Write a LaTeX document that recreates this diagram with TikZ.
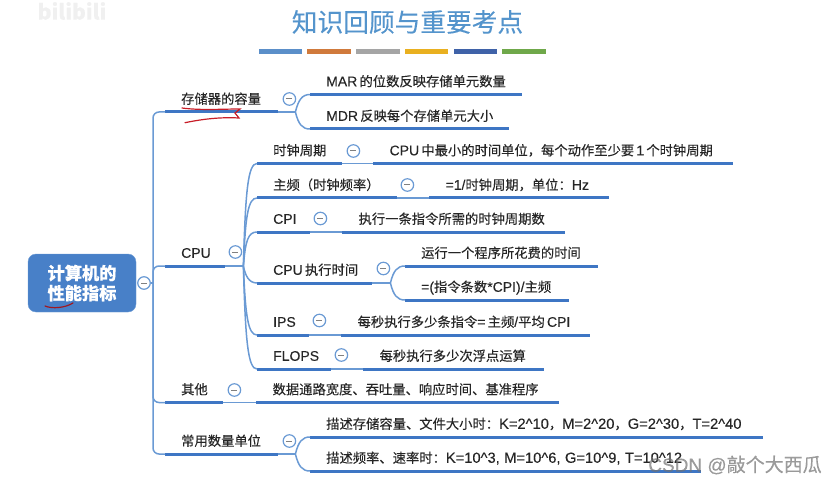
\documentclass[tikz,border=0pt]{standalone}
\usepackage{fontspec}
\setmainfont{Noto Sans CJK SC}[FakeBold=0.2]
\newfontfamily\latfont{Liberation Sans}[FakeBold=0.2]
\newcommand{\lat}[1]{{\latfont\fontsize{14}{16}\selectfont #1}}
\newcommand{\latw}[1]{{\latfont\fontsize{14.7}{16}\selectfont #1}}
\usetikzlibrary{
  positioning,
  calc
}
\definecolor{perfRoot}{RGB}{72,128,200}
\definecolor{perfLine}{RGB}{62,118,196}
\definecolor{perfEdge}{RGB}{106,154,212}
\definecolor{perfText}{RGB}{38,38,38}
\definecolor{perfTitle}{RGB}{84,148,204}
\definecolor{perfPen}{RGB}{200,30,40}
\definecolor{barBlue}{RGB}{91,143,201}
\definecolor{barOrange}{RGB}{208,122,60}
\definecolor{barGray}{RGB}{165,165,165}
\definecolor{barYellow}{RGB}{233,176,32}
\definecolor{barNavy}{RGB}{63,98,168}
\definecolor{barGreen}{RGB}{111,168,74}
\tikzset{
  rootbox/.style={
    fill=perfRoot,
    draw=perfEdge,
    rounded corners=8pt,
    minimum width=108pt,
    minimum height=58pt,
    align=center,
    text=white,
    font=\fontsize{17.2}{20}\selectfont\bfseries
  },
  topic/.style={
    anchor=south west,
    inner xsep=16pt,
    inner ysep=5pt,
    text width=#1pt,
    text height=10pt,
    text depth=3pt,
    align=left,
    text=perfText,
    font=\fontsize{13.3}{16}\selectfont,
    append after command={
      (\tikzlastnode.south west) edge[topicline] (\tikzlastnode.south east)
    }
  },
  topicline/.style={
    draw=perfLine,
    line width=3pt
  },
  branch/.style={
    draw=perfEdge,
    line width=1.5pt
  },
  collapse/.style={
    circle,
    draw=perfEdge,
    line width=1.2pt,
    fill=white,
    minimum size=12.5pt,
    inner sep=0pt,
    path picture={
      \draw[gray,line width=1pt]
        ([xshift=-3pt]path picture bounding box.center) --
        ([xshift=3pt]path picture bounding box.center);
    }
  },
  colorbar/.style={
    minimum width=43.5pt,
    minimum height=5pt,
    inner sep=0pt
  },
  penmark/.style={
    draw=perfPen,
    line width=1.2pt,
    line cap=round
  },
  watermark/.style={
    inner sep=0pt
  }
}

\begin{document}
\begin{tikzpicture}[x=1pt,y=-1pt]
  \useasboundingbox (0,0) rectangle (836,484);

  \node[watermark, text=black!6, font=\fontsize{21}{24}\selectfont\bfseries] (bili) at (72,11) {bilibili};

  \node[text=perfTitle, inner sep=0pt, font=\fontsize{25.7}{28}\selectfont] (title) at (407.5,22) {知识回顾与重要考点};

  \node[colorbar, fill=barBlue] (bar1) at (280.5,52) {};
  \node[colorbar, fill=barOrange, right=4.8pt of bar1] (bar2) {};
  \node[colorbar, fill=barGray, right=4.8pt of bar2] (bar3) {};
  \node[colorbar, fill=barYellow, right=4.8pt of bar3] (bar4) {};
  \node[colorbar, fill=barNavy, right=4.8pt of bar4] (bar5) {};
  \node[colorbar, fill=barGreen, right=4.8pt of bar5] (bar6) {};

  \node[rootbox] (root) at (82,283) {计算机的\\性能指标};
  \node[collapse] (rootc) at (144,283) {};
  \coordinate (trunk) at (153,283);

  % first level
  \node[topic=81] (mem) at (165,112) {存储器的容量};
  \node[topic=28] (cpu) at (165,266) {\lat{CPU}};
  \node[topic=26] (oth) at (165,402.5) {其他};
  \node[topic=81] (unit) at (165,454) {常用数量单位};

  \node[collapse] (memc) at ($(mem.south east)+(11,-13)$) {};
  \node[collapse] (cpuc) at ($(cpu.south east)+(10,-14)$) {};
  \node[collapse] (othc) at ($(oth.south east)+(11,-12.5)$) {};
  \node[collapse] (unitc) at ($(unit.south east)+(11,-13)$) {};

  % memory
  \node[topic=180] (mar) at (310,94.5) {\lat{MAR}\,的位数反映存储单元数量};
  \node[topic=167] (mdr) at (310,129) {\lat{MDR}\,反映每个存储单元大小};

  % cpu
  \node[topic=53] (clk) at (257,163.5) {时钟周期};
  \node[topic=327, right=31pt of clk] (clkd) {\lat{CPU}\,中最小的时间单位，每个动作至少要\,\lat{1}\,个时钟周期};
  \node[topic=108] (freq) at (257,198) {主频（时钟频率）};
  \node[topic=147, right=32pt of freq] (freqd) {\lat{=1/}时钟周期，单位：\lat{Hz}};
  \node[topic=21] (cpi) at (257,232) {\lat{CPI}};
  \node[topic=190, right=32pt of cpi] (cpid) {执行一条指令所需的时钟周期数};
  \node[topic=83] (time) at (257,283) {\lat{CPU}\,执行时间};
  \node[topic=161] (run) at (405,266) {运行一个程序所花费的时间};
  \node[topic=132] (calc) at (405,300) {\lat{=(}指令条数\lat{*CPI)/}主频};
  \node[topic=20] (ips) at (257,335) {\lat{IPS}};
  \node[topic=216, right=32pt of ips] (ipsd) {每秒执行多少条指令\lat{=}\,主频\lat{/}平均\,\lat{CPI}};
  \node[topic=42] (flops) at (257,369) {\lat{FLOPS}};
  \node[topic=148, right=32pt of flops] (flopsd) {每秒执行多少次浮点运算};

  \node[collapse] (clkc) at ($(clk.south east)+(11,-12.5)$) {};
  \node[collapse] (freqc) at ($(freq.south east)+(10,-13)$) {};
  \node[collapse] (cpic) at ($(cpi.south east)+(10,-13.5)$) {};
  \node[collapse] (timec) at ($(time.south east)+(11,-14.5)$) {};
  \node[collapse] (ipsc) at ($(ips.south east)+(10,-14.5)$) {};
  \node[collapse] (flopsc) at ($(flops.south east)+(10,-14)$) {};

  % others and units
  \node[topic=270, right=33pt of oth] (othd) {数据通路宽度、吞吐量、响应时间、基准程序};
  \node[topic=421] (sto) at (310,437) {描述存储容量、文件大小时：\latw{K=2\^{}10}，\latw{M=2\^{}20}，\latw{G=2\^{}30}，\latw{T=2\^{}40}};
  \node[topic=359] (frq) at (310,471) {描述频率、速率时：\latw{K=10\^{}3, M=10\^{}6, G=10\^{}9, T=10\^{}12}};

  % trunk
  \draw[branch] (rootc.east) -- (trunk);
  \draw[branch, rounded corners=6pt] (trunk) |- (mem.south west);
  \draw[branch, rounded corners=6pt] (trunk) |- (cpu.south west);
  \draw[branch, rounded corners=6pt] (trunk) |- (oth.south west);
  \draw[branch, rounded corners=6pt] (trunk) |- (unit.south west);

  % forks
  \coordinate[right=17pt of mem.south east] (memfork);
  \coordinate[right=18pt of cpu.south east] (cpufork);
  \coordinate[right=18pt of time.south east] (timefork);
  \coordinate[right=17pt of unit.south east] (unitfork);

  \draw[branch] (mem.south east) -- (memfork);
  \draw[branch] (memfork) .. controls +(3,-12) and +(-8,0) .. (mar.south west);
  \draw[branch] (memfork) .. controls +(3,12) and +(-8,0) .. (mdr.south west);

  \draw[branch] (cpu.south east) -- (cpufork);
  \draw[branch] (cpufork) .. controls +(2,-75) and +(-9,0) .. (clk.south west);
  \draw[branch] (cpufork) .. controls +(2,-50) and +(-9,0) .. (freq.south west);
  \draw[branch] (cpufork) .. controls +(2,-25) and +(-9,0) .. (cpi.south west);
  \draw[branch] (cpufork) .. controls +(2,10) and +(-8,0) .. (time.south west);
  \draw[branch] (cpufork) .. controls +(2,50) and +(-9,0) .. (ips.south west);
  \draw[branch] (cpufork) .. controls +(2,75) and +(-9,0) .. (flops.south west);

  \draw[branch] (time.south east) -- (timefork);
  \draw[branch] (timefork) .. controls +(3,-12) and +(-8,0) .. (run.south west);
  \draw[branch] (timefork) .. controls +(3,12) and +(-8,0) .. (calc.south west);

  \draw[branch] (unit.south east) -- (unitfork);
  \draw[branch] (unitfork) .. controls +(3,-12) and +(-8,0) .. (sto.south west);
  \draw[branch] (unitfork) .. controls +(3,12) and +(-8,0) .. (frq.south west);

  % thin links
  \draw[branch] (clk.south east) -- (clkd.south west);
  \draw[branch] (freq.south east) -- (freqd.south west);
  \draw[branch] (cpi.south east) -- (cpid.south west);
  \draw[branch] (ips.south east) -- (ipsd.south west);
  \draw[branch] (flops.south east) -- (flopsd.south west);
  \draw[branch] (oth.south east) -- (othd.south west);

  % pen strokes
  \draw[penmark] (182,108) .. controls (200,110.5) and (222,109) .. (240,109) -- (235,113) -- (239,118)
    .. controls (220,117) and (203,119) .. (185,122.7);
  \draw[penmark, draw=perfPen!80!black] (45,306) .. controls (52,309) and (65,308) .. (73,303);

  \node[watermark, text=black!55, opacity=.7, font=\fontsize{19}{20}\selectfont] (mark) at (735,465) {\latfont CSDN @\normalfont 敲个大西瓜};
\end{tikzpicture}
\end{document}
